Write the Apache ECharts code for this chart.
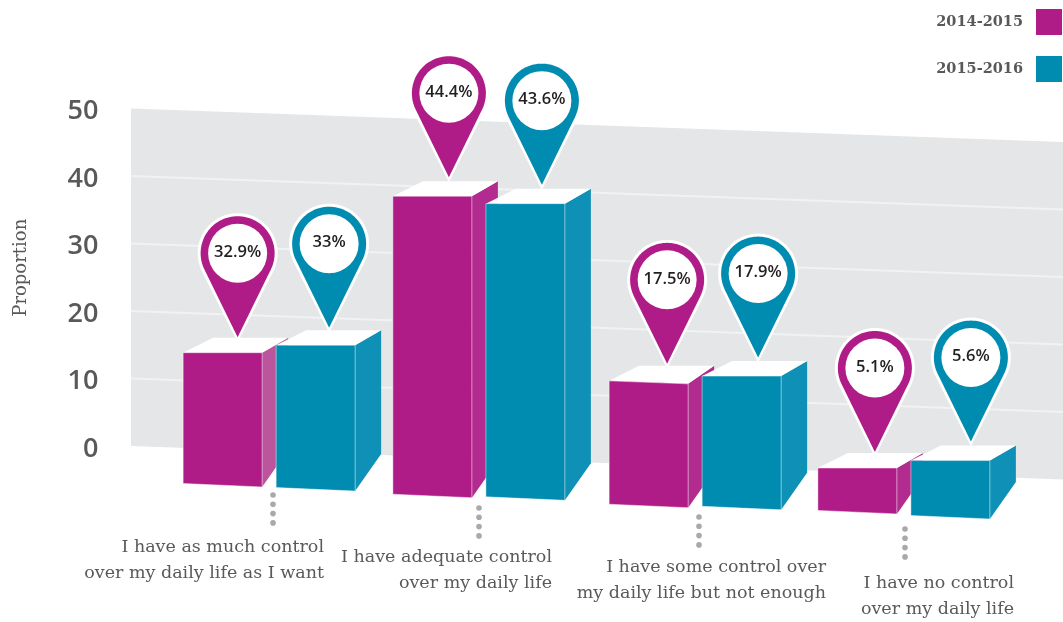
<!DOCTYPE html>
<html>
<head>
<meta charset="utf-8">
<style>html,body{margin:0;padding:0;background:#fff}#c{width:1063px;height:622px}</style>
<script src="https://cdn.jsdelivr.net/npm/echarts@6/dist/echarts.min.js"></script>
</head>
<body>
<div id="c"></div>
<script>
// --- data ---
const categories = [
  'I have as much control\nover my daily life as I want',
  'I have adequate control\nover my daily life',
  'I have some control over\nmy daily life but not enough',
  'I have no control\nover my daily life'
];
const seriesNames = ['2014-2015', '2015-2016'];
const share2014 = [32.9, 44.4, 17.5, 5.1];
const share2015 = [33, 43.6, 17.9, 5.6];
// bar tops as they stand against the drawn (slanted) proportion grid
const barTop2014 = [14.1, 38.4, 12.2, 0.4];
const barTop2015 = [15.7, 37.8, 13.4, 2.0];
const yTicks = [10, 20, 30, 40];

// --- styling and layout ---
const MAGENTA = '#b01c87', TEAL = '#008bb0';
const sideMagenta = ['#bb559e', '#b22b8e', '#b22b8e', '#b22b8e'];
const SIDE_TEAL = '#0f90b6';
const SLOPE = 0.036, BACK_LEFT = 131, BACK_RIGHT = 1063;
const BASE_DROP = 37.5, BASE_SLOPE = 0.044;
const BAR_W = 79, DEPTH_X = 26, DEPTH_TOP = 15, DEPTH_BOTTOM = 37, TOP_BACK_LEFT = 30;
const groupNudge = [0, -1.5, 3.5, 1];
const seriesShift = [-86, 7];
const baseAdjust = [[0, 1.5, 2, -1], [0, 0, 0, 0]];
const topTilt = [[0, 0, 3, 0], [0, 0, 0, 0]];
const pinDx = [[54.5, 56, 58, 57], [53, 56, 56, 60]];
const pinRise = [[15.5, 19, 17, 16], [17.5, 19, 18.5, 19]];
const labelRight = [324, 552, 826, 1014];
const labelTop = [547, 557, 567, 583];
const dotX = [273, 479, 699, 905];
const dotTop = [495, 508, 517, 529];
const SERIF = '"DejaVu Serif", serif';
const GREY = '#58595b';

function skewY(x) { return SLOPE * (x - BACK_LEFT); }
function barLeft(api, cat, s) {
  return api.coord([cat, 0])[0] + groupNudge[cat] + seriesShift[s];
}
function renderBar(s) {
  return function (params, api) {
    const cat = api.value(0);
    const x = barLeft(api, cat, s), r = x + BAR_W;
    const top = api.coord([cat, api.value(1)])[1] + skewY(x);
    const topR = top + topTilt[s][cat];
    const zero = api.coord([cat, 0])[1];
    const botL = zero + BASE_DROP + BASE_SLOPE * (x - 183) + baseAdjust[s][cat];
    const botR = botL + BASE_SLOPE * BAR_W;
    const front = s === 0 ? MAGENTA : TEAL;
    const side = s === 0 ? sideMagenta[cat] : SIDE_TEAL;
    return { type: 'group', children: [
      { type: 'polygon', shape: { points: [[r, topR], [r + DEPTH_X, top - DEPTH_TOP], [r + DEPTH_X, botR - DEPTH_BOTTOM], [r, botR]] },
        style: { fill: side } },
      { type: 'polygon', shape: { points: [[x, top], [x + TOP_BACK_LEFT, top - DEPTH_TOP], [r + DEPTH_X, top - DEPTH_TOP], [r, topR]] },
        style: { fill: '#ffffff' } },
      { type: 'polygon', shape: { points: [[x, top], [r, topR], [r, botR], [x, botL]] },
        style: { fill: front, stroke: 'rgba(255,255,255,0.45)', lineWidth: 1 } }
    ]};
  };
}
function pinShape(cx, cy, r, tipY) {
  const d = tipY - cy, t = Math.acos(r / d), pts = [[cx, tipY]];
  for (let i = 0; i <= 72; i++) {
    const a = t + (2 * Math.PI - 2 * t) * i / 72;
    pts.push([cx + r * Math.sin(a), cy + r * Math.cos(a)]);
  }
  return pts;
}
function renderPin(s, shares) {
  return function (params, api) {
    const cat = api.value(0);
    const x = barLeft(api, cat, s);
    const top = api.coord([cat, api.value(1)])[1] + skewY(x);
    const cx = x + pinDx[s][cat], tip = top - pinRise[s][cat], cy = tip - 84;
    const color = s === 0 ? MAGENTA : TEAL;
    return { type: 'group', children: [
      { type: 'polygon', shape: { points: pinShape(cx, cy, 40, tip + 5) }, style: { fill: '#ffffff' } },
      { type: 'polygon', shape: { points: pinShape(cx, cy, 37, tip) }, style: { fill: color } },
      { type: 'circle', shape: { cx: cx, cy: cy, r: 29.5 }, style: { fill: '#ffffff' } },
      { type: 'text', style: { text: shares[cat] + '%', x: cx, y: cy - 1, align: 'center', verticalAlign: 'middle',
        fill: '#231f20', fontFamily: '"Open Sans", sans-serif', fontWeight: 600, fontSize: 16.5 } }
    ]};
  };
}
function idx(arr) { return arr.map((v, i) => [i, v]); }

const chart = echarts.init(document.getElementById('c'), null, { renderer: 'canvas' });
chart.setOption({
  animation: false,
  backgroundColor: '#ffffff',
  tooltip: { show: false },
  legend: {
    data: seriesNames, orient: 'vertical', right: 1, top: 9, align: 'right', padding: 0,
    itemWidth: 26, itemHeight: 26, itemGap: 21, icon: 'rect',
    selectedMode: false,
    textStyle: { fontFamily: SERIF, fontWeight: 'bold', fontSize: 14.5, color: GREY, padding: [0, 8, 0, 0] }
  },
  grid: { left: 163.5, right: 54.5, top: 108.5, bottom: 176, containLabel: false, outerBoundsMode: 'none' },
  xAxis: { type: 'category', data: categories, axisLine: { show: false }, axisTick: { show: false }, axisLabel: { show: false } },
  yAxis: {
    type: 'value', min: 0, max: 50, interval: 10,
    name: 'Proportion', nameLocation: 'middle', nameGap: 133,
    nameTextStyle: { fontFamily: SERIF, fontSize: 18, color: GREY, padding: [0, 0, 0, 19] },
    axisLine: { show: false }, axisTick: { show: false }, splitLine: { show: false },
    axisLabel: { margin: 65, fontFamily: '"Open Sans", sans-serif', fontWeight: 600, fontSize: 27, color: GREY,
      formatter: '{n|{value}}', rich: { n: { fontFamily: '"Open Sans", sans-serif', fontWeight: 600, fontSize: 27, color: GREY, padding: [6, 0, 0, 0] } } }
  },
  series: [
    { type: 'custom', name: 'backdrop', z: 1, silent: true, data: [[0, 0, 50]], encode: { x: 0, y: [1, 2] },
      renderItem: function (p, api) {
        const y0 = api.coord([0, api.value(1)])[1], y1 = api.coord([0, api.value(2)])[1];
        const dy = skewY(BACK_RIGHT);
        return { type: 'polygon', shape: { points: [[BACK_LEFT, y1], [BACK_RIGHT, y1 + dy], [BACK_RIGHT, y0 + dy], [BACK_LEFT, y0]] },
          style: { fill: '#e5e6e8' } };
      } },
    { type: 'custom', name: 'gridlines', z: 1, silent: true, data: idx(yTicks), encode: { x: 0, y: 1 },
      renderItem: function (p, api) {
        const y = api.coord([0, api.value(1)])[1];
        return { type: 'line', shape: { x1: BACK_LEFT, y1: y, x2: BACK_RIGHT, y2: y + skewY(BACK_RIGHT) },
          style: { stroke: '#f1f2f3', lineWidth: 2 } };
      } },
    { type: 'custom', name: 'callouts', z: 1, silent: true, data: idx(categories.map((c, i) => i)), encode: { x: 0, y: 1 },
      renderItem: function (p, api) {
        const cat = api.value(0), kids = [];
        for (let k = 0; k < 4; k++) {
          kids.push({ type: 'circle', shape: { cx: dotX[cat], cy: dotTop[cat] + k * 9.3, r: 2.8 }, style: { fill: '#a7a9ac' } });
        }
        kids.push({ type: 'text', style: { text: categories[cat], x: labelRight[cat], y: labelTop[cat] - 13, align: 'right', verticalAlign: 'top',
          fill: GREY, fontFamily: SERIF, fontSize: 17.5, lineHeight: 26 } });
        return { type: 'group', children: kids };
      } },
    { type: 'custom', name: seriesNames[0], z: 2, itemStyle: { color: MAGENTA }, data: idx(barTop2014), encode: { x: 0, y: 1 }, renderItem: renderBar(0) },
    { type: 'custom', name: seriesNames[1], z: 3, itemStyle: { color: TEAL }, data: idx(barTop2015), encode: { x: 0, y: 1 }, renderItem: renderBar(1) },
    { type: 'custom', name: 'pins2014', z: 4, silent: true, data: idx(barTop2014), encode: { x: 0, y: 1 }, renderItem: renderPin(0, share2014) },
    { type: 'custom', name: 'pins2015', z: 4, silent: true, data: idx(barTop2015), encode: { x: 0, y: 1 }, renderItem: renderPin(1, share2015) }
  ]
});
</script>
</body>
</html>
